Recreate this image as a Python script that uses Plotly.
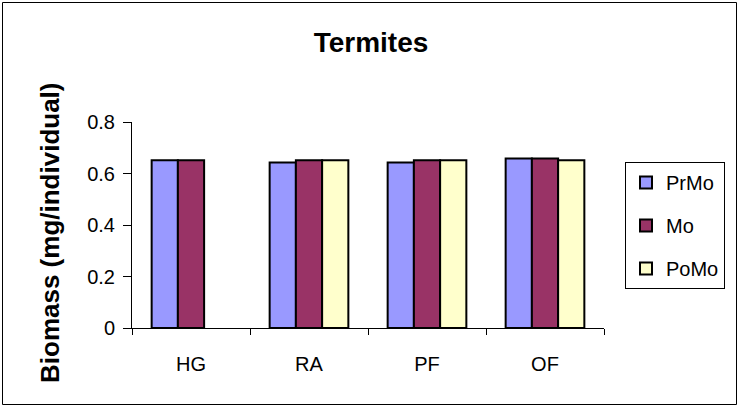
import plotly.graph_objects as go

categories = ["HG", "RA", "PF", "OF"]
prmo = [0.651, 0.643, 0.643, 0.658]
mo = [0.651, 0.651, 0.651, 0.658]
pomo = [None, 0.651, 0.651, 0.651]
y_ticks = [0, 0.2, 0.4, 0.6, 0.8]
y_ticktext = ["0", "0.2", "0.4", "0.6", "0.8"]

FONT = "Liberation Sans, Arial, sans-serif"
L, R, T, B = 132, 135, 122, 79
W, H = 739, 407
pw, ph = W - L - R, H - T - B

def px_x(x):
    return (x - L) / pw

def px_y(y):
    return (H - B - y) / ph

fig = go.Figure()
for name, vals, col in [("PrMo", prmo, "#9999FF"), ("Mo", mo, "#993366"), ("PoMo", pomo, "#FFFFCC")]:
    fig.add_trace(go.Bar(x=categories, y=vals, name=name, legendgroup=name,
                         marker=dict(color=col, line=dict(color="black", width=2))))

fig.update_layout(
    width=W, height=H,
    margin=dict(l=L, r=R, t=T, b=B, pad=0),
    paper_bgcolor="white", plot_bgcolor="white",
    barmode="group", bargap=0.333, bargroupgap=0,
    font=dict(family=FONT, size=20, color="black"),
    title=dict(text="<b>Termites</b>", x=371 / W, xanchor="center", y=1 - 42 / H, yanchor="middle",
               font=dict(family=FONT, size=28, color="black")),
    showlegend=True,
    legend=dict(x=px_x(625), y=px_y(162), xanchor="left", yanchor="top",
                bordercolor="black", borderwidth=1, bgcolor="white",
                font=dict(family=FONT, size=20), tracegroupgap=14, itemwidth=30),
    xaxis=dict(type="category", tickson="boundaries", ticks="outside", ticklen=6, tickcolor="black",
               showline=True, linecolor="black", linewidth=1, showgrid=False, ticklabelstandoff=18,
               tickfont=dict(family=FONT, size=20), range=[-0.5, 3.5]),
    yaxis=dict(range=[0, 0.8], tickvals=y_ticks, ticktext=y_ticktext, ticks="outside", ticklen=8,
               tickcolor="black", showline=True, linecolor="black", linewidth=1, showgrid=False,
               zeroline=False, ticklabelstandoff=4, tickfont=dict(family=FONT, size=20)),
)

fig.add_annotation(text="<b>Biomass (mg/individual)</b>", textangle=-90, xref="paper", yref="paper",
                   x=px_x(50), y=px_y(233), showarrow=False, xanchor="center", yanchor="middle",
                   font=dict(family=FONT, size=26, color="black"))

fig.add_shape(type="rect", xref="paper", yref="paper",
              x0=px_x(2.5), x1=px_x(736.5), y0=px_y(404.5), y1=px_y(2.5),
              line=dict(color="black", width=1), fillcolor="rgba(0,0,0,0)", layer="below")

fig.write_html("out.html", config={"displayModeBar": False},
               post_script="document.body.style.margin='0';")
